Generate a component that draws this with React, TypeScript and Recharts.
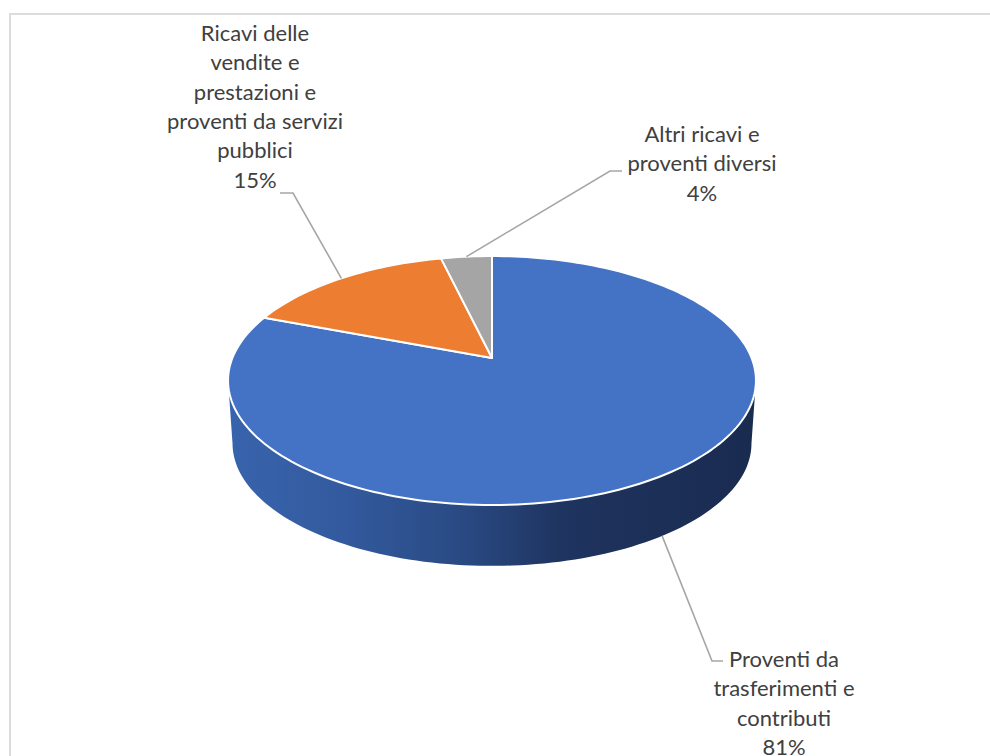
import { Pie, PieChart } from "recharts";

const categories = [
  "Proventi da trasferimenti e contributi",
  "Ricavi delle vendite e prestazioni e proventi da servizi pubblici",
  "Altri ricavi e proventi diversi",
];
const values = [80.8, 15.49, 3.71];
const sliceColors = ["#4472c4", "#ed7d31", "#a5a5a5"];
const wrappedLabels = [
  ["Proventi da", "trasferimenti e", "contributi"],
  ["Ricavi delle", "vendite e", "prestazioni e", "proventi da servizi", "pubblici"],
  ["Altri ricavi e", "proventi diversi"],
];

const chartData = categories.map((name, i) => ({
  name,
  value: values[i],
  fill: sliceColors[i],
}));

// where each data label sits and how its leader line bends
const labelLayout = [
  { x: 784, y: 667, elbow: [712, 661], end: [723, 661] },
  { x: 255, y: 41, elbow: [293, 193], end: [280, 193] },
  { x: 702, y: 142, elbow: [610, 171], end: [622, 171] },
];

const LINE_HEIGHT = 29.3;
const CENTER_X = 492;
const CENTER_Y = 358;
const RADIUS = 259.6;

// Recharts has no 3D pie, so sectors get projected onto a tilted plane by hand
const PERSPECTIVE = 0.181;
const TILT = 0.4638;
const DEPTH = 63;
const BOTTOM_SCALE = 0.983;

function project(cx: number, cy: number, r: number, deg: number, bottom = false) {
  const rad = (deg * Math.PI) / 180;
  const w = 1 + PERSPECTIVE * Math.cos(rad);
  const x = (r * Math.sin(rad)) / w;
  const y = (-r * TILT * Math.cos(rad)) / w;
  if (!bottom) return [cx + x, cy + y];
  const midY = cy + 22;
  return [cx + x * BOTTOM_SCALE, midY + (cy + y - midY) * BOTTOM_SCALE + DEPTH];
}

function arcPoints(cx: number, cy: number, r: number, from: number, to: number, bottom = false) {
  const steps = Math.max(2, Math.ceil(Math.abs(to - from) / 1.5));
  const points: number[][] = [];
  for (let i = 0; i <= steps; i += 1) {
    points.push(project(cx, cy, r, from + ((to - from) * i) / steps, bottom));
  }
  return points;
}

function toPath(points: number[][]) {
  return points.map((p, i) => `${i ? "L" : "M"}${p[0].toFixed(2)} ${p[1].toFixed(2)}`).join(" ");
}

function Slice3D(props: any) {
  const { cx, cy, outerRadius, startAngle, endAngle, fill } = props;
  const from = 90 - startAngle;
  const to = 90 - endAngle;
  // front part of the rim, only where the slice faces the viewer
  const side = (Math.acos(-PERSPECTIVE) * 180) / Math.PI;
  const wallFrom = Math.max(from, side);
  const wallTo = Math.min(to, 360 - side);
  const top = arcPoints(cx, cy, outerRadius, from, to);

  return (
    <g>
      {wallTo > wallFrom && (
        <path
          d={`${toPath([
            ...arcPoints(cx, cy, outerRadius, wallFrom, wallTo),
            ...arcPoints(cx, cy, outerRadius, wallTo, wallFrom, true),
          ])} Z`}
          fill="url(#rimShade)"
        />
      )}
      <path
        d={`${toPath([[cx, cy], ...top])} Z`}
        fill={fill}
        stroke="#ffffff"
        strokeWidth={2}
        strokeLinejoin="round"
      />
    </g>
  );
}

function SliceLabel(props: any) {
  const { cx, cy, outerRadius, midAngle, index, percent } = props;
  const layout = labelLayout[index];
  const deg = 90 - midAngle;
  // leader starts on the rim for slices that show their front wall
  const start = project(cx, cy, outerRadius, deg, Math.cos((deg * Math.PI) / 180) < -0.2);
  const lines = [...wrappedLabels[index], `${Math.floor(percent * 100 + 0.5)}%`];

  return (
    <g>
      <polyline
        points={[start, layout.elbow, layout.end].map((p) => p.join(",")).join(" ")}
        fill="none"
        stroke="#a6a6a6"
        strokeWidth={1.6}
      />
      <text
        x={layout.x}
        y={layout.y}
        textAnchor="middle"
        fill="#404040"
        fontFamily="Lato"
        fontSize={22}
      >
        {lines.map((line, i) => (
          <tspan key={line} x={layout.x} dy={i ? LINE_HEIGHT : 0}>
            {line}
          </tspan>
        ))}
      </text>
    </g>
  );
}

export default function App() {
  return (
    <div style={{ position: "absolute", left: 0, top: 0, width: 990, height: 756, background: "#fff", overflow: "hidden" }}>
      <div
        style={{
          position: "absolute",
          left: 9,
          top: 13,
          width: 981,
          height: 743,
          borderTop: "2px solid #dcdcdc",
          borderLeft: "2px solid #dcdcdc",
          boxSizing: "border-box",
        }}
      />
      <PieChart width={990} height={756} margin={{ top: 0, right: 0, bottom: 0, left: 0 }}>
        <defs>
          <linearGradient id="rimShade" x1="0" y1="0" x2="1" y2="0">
            <stop offset="0" stopColor="#3864ad" />
            <stop offset="0.22" stopColor="#335a9e" />
            <stop offset="0.45" stopColor="#294982" />
            <stop offset="0.64" stopColor="#1e335e" />
            <stop offset="1" stopColor="#1a2b50" />
          </linearGradient>
        </defs>
        <Pie
          data={chartData}
          dataKey="value"
          nameKey="name"
          cx={CENTER_X}
          cy={CENTER_Y}
          outerRadius={RADIUS}
          startAngle={90}
          endAngle={-270}
          paddingAngle={0}
          shape={Slice3D}
          label={SliceLabel}
          labelLine={false}
          isAnimationActive={false}
        />
      </PieChart>
    </div>
  );
}
